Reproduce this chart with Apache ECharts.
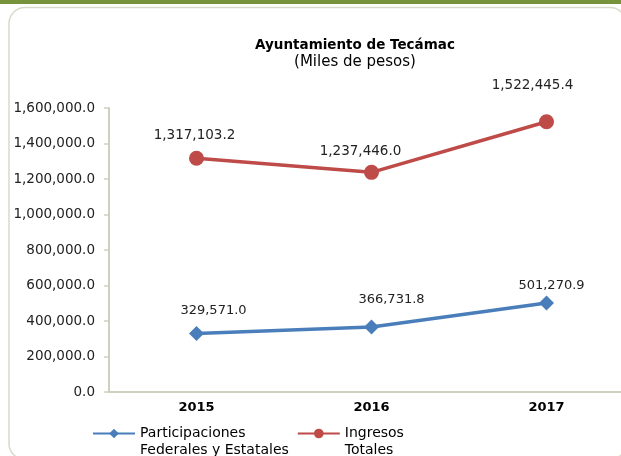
<!DOCTYPE html>
<html>
<head>
<meta charset="utf-8">
<script src="https://cdn.jsdelivr.net/npm/echarts@6/dist/echarts.min.js"></script>
<style>
html, body { margin: 0; padding: 0; background: #fff; overflow: hidden; }
#chart { width: 634px; height: 456px; }
</style>
</head>
<body>
<div id="chart"></div>
<script>
var years = ['2015', '2016', '2017'];
var participaciones = [329571.0, 366731.8, 501270.9];
var ingresos = [1317103.2, 1237446.0, 1522445.4];
var yTicks = [0, 200000, 400000, 600000, 800000, 1000000, 1200000, 1400000, 1600000];

var font = 'DejaVu Sans';

function fmt(v) {
    return Number(v).toLocaleString('en-US', {minimumFractionDigits: 1, maximumFractionDigits: 1});
}

// el grafico original queda cortado a la derecha
var myChart = echarts.init(document.getElementById('chart'));

var option = {
    animation: false,
    textStyle: {fontFamily: font},
    title: {
        text: 'Ayuntamiento de Tecámac',
        subtext: '(Miles de pesos)',
        left: 355,
        top: 38,
        textAlign: 'center',
        itemGap: 3,
        padding: 0,
        textStyle: {fontFamily: font, fontSize: 13.5, fontWeight: 'bold', color: '#000'},
        subtextStyle: {fontFamily: font, fontSize: 15, color: '#000'}
    },
    graphic: [
        {type: 'rect', shape: {x: 0, y: 0, width: 634, height: 4}, style: {fill: '#77933c'}},
        {type: 'rect', shape: {x: 9, y: 7.5, width: 617, height: 452, r: 16},
         style: {fill: 'none', stroke: '#d9d9c9', lineWidth: 1.5}}
    ],
    legend: {
        left: 92,
        top: 408,
        padding: 0,
        itemWidth: 42,
        itemHeight: 12,
        itemGap: 8,
        textStyle: {fontFamily: font, fontSize: 14, color: '#000', lineHeight: 17},
        // linea vacia arriba para que el icono quede junto a la primera linea
        formatter: function (name) { return ' \n' + name; },
        data: ['Participaciones\nFederales y Estatales', 'Ingresos\nTotales']
    },
    grid: {left: 109, top: 108, right: 0, bottom: 64},
    xAxis: {
        type: 'category',
        data: years,
        axisLine: {lineStyle: {color: '#d0d0c0', width: 2}},
        axisTick: {length: 5, lineStyle: {color: '#d0d0c0', width: 1.5}},
        axisLabel: {margin: 9, fontFamily: font, fontSize: 13, fontWeight: 'bold', color: '#000'}
    },
    yAxis: {
        type: 'value',
        min: yTicks[0],
        max: yTicks[yTicks.length - 1],
        interval: yTicks[1] - yTicks[0],
        axisLine: {show: true, lineStyle: {color: '#d0d0c0', width: 2}},
        axisTick: {show: true, length: 5, lineStyle: {color: '#d0d0c0', width: 1.5}},
        splitLine: {show: false},
        axisLabel: {margin: 14, fontFamily: font, fontSize: 13.5, color: '#222', formatter: fmt}
    },
    series: [
        {
            name: 'Participaciones\nFederales y Estatales',
            type: 'line',
            symbol: 'diamond',
            symbolSize: 15,
            lineStyle: {color: '#4a7ebb', width: 3.5},
            itemStyle: {color: '#4a7ebb'},
            label: {show: true, position: 'top', fontFamily: font, fontSize: 13,
                    color: '#222', formatter: function (p) { return fmt(p.value); }}
        },
        {
            name: 'Ingresos\nTotales',
            type: 'line',
            symbol: 'circle',
            symbolSize: 15,
            lineStyle: {color: '#be4b48', width: 3.5},
            itemStyle: {color: '#be4b48'},
            label: {show: true, position: 'top', fontFamily: font, fontSize: 13.5,
                    color: '#222', formatter: function (p) { return fmt(p.value); }}
        }
    ]
};

// posicion de etiquetas por punto (como en el original)
var blueLbl = [[17, -9], [20, -13], [5, -3]];
var redLbl = [[-2, -8], [-11, -6], [-14, -22]];
option.series[0].data = participaciones.map(function (v, i) {
    return {value: v, label: {distance: 0, offset: blueLbl[i]}};
});
option.series[1].data = ingresos.map(function (v, i) {
    return {value: v, label: {distance: 0, offset: redLbl[i]}};
});

myChart.setOption(option);
</script>
</body>
</html>
